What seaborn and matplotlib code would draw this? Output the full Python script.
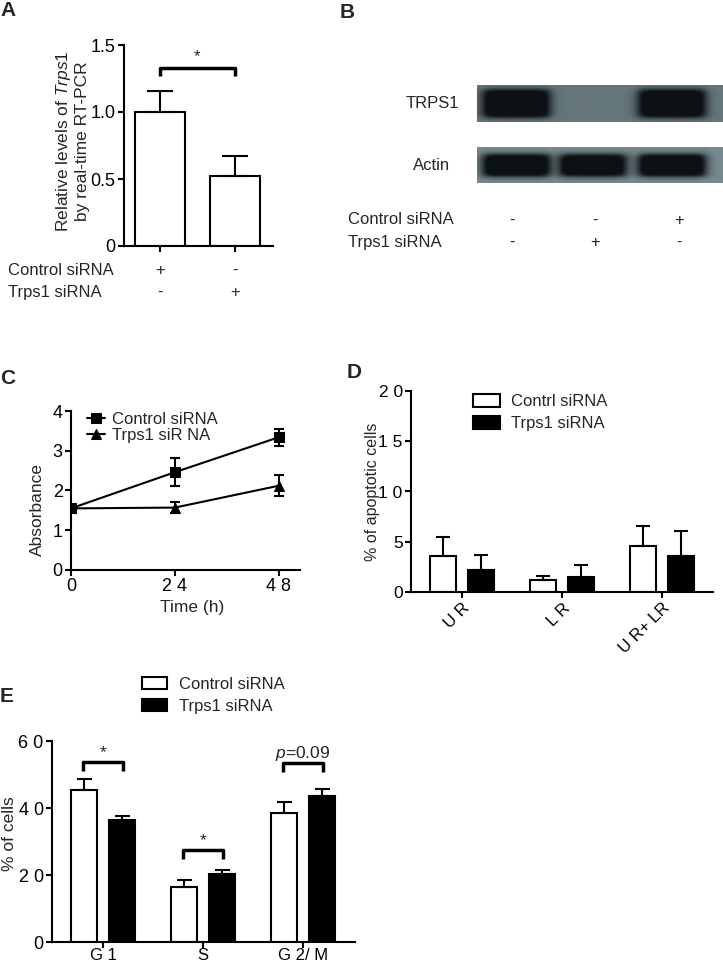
import numpy as np
import pandas as pd
import matplotlib
matplotlib.use('Agg')
import matplotlib.pyplot as plt
import seaborn as sns
from matplotlib import transforms
from matplotlib.colors import LinearSegmentedColormap

# === Data ===
# A: relative Trps1 mRNA levels
a_groups = ['Control', 'Trps1']
a_mean = [1.00, 0.52]
a_err = [0.16, 0.15]
a_control_row = ['+', '-']
a_trps1_row = ['-', '+']
a_bracket = 1.33

# B: western blot (band strength per lane)
b_control_row = ['-', '-', '+']
b_trps1_row = ['-', '+', '-']
b_trps1_band = [1.0, 0.0, 1.0]
b_actin_band = [1.0, 0.95, 1.0]

# C: growth curve
c_time = [0, 24, 48]
c_control = [1.55, 2.46, 3.34]
c_control_err = [0.0, 0.35, 0.21]
c_trps1 = [1.55, 1.57, 2.12]
c_trps1_err = [0.0, 0.13, 0.26]

# D: apoptosis
d_cats = ['U R', 'L R', 'U R+ LR']
d_control = [3.6, 1.2, 4.6]
d_control_err = [1.9, 0.35, 2.0]
d_trps1 = [2.2, 1.5, 3.6]
d_trps1_err = [1.5, 1.2, 2.5]

# E: cell cycle
e_cats = ['G 1', 'S', 'G 2/ M']
e_control = [45.3, 16.4, 38.5]
e_control_err = [3.5, 2.0, 3.4]
e_trps1 = [36.4, 20.2, 43.6]
e_trps1_err = [1.1, 1.2, 2.0]
e_sig = ['*', '*', '$p$=0.09']
e_bracket = [53.7, 27.5, 53.4]

# === Style ===
sns.set_theme(style='ticks')
plt.rcParams['font.family'] = ['Liberation Sans', 'DejaVu Sans']
plt.rcParams.update({
    'mathtext.fontset': 'custom',
    'mathtext.rm': 'Liberation Sans',
    'mathtext.it': 'Liberation Sans:italic',
    'axes.linewidth': 1.5,
    'xtick.major.width': 1.5,
    'ytick.major.width': 1.5,
    'xtick.major.size': 4,
    'ytick.major.size': 4,
    'xtick.major.pad': 2,
    'ytick.major.pad': 2,
    'xtick.labelsize': 13,
    'ytick.labelsize': 13,
    'axes.labelsize': 12,
    'axes.edgecolor': 'black',
    'xtick.color': 'black',
    'ytick.color': 'black',
})

W, H = 723, 963
fig = plt.figure(figsize=(W / 100, H / 100), dpi=100)


def box(x0, y0, x1, y1):
    return [x0 / W, 1 - y1 / H, (x1 - x0) / W, (y1 - y0) / H]


def ftext(x, y, s, **kw):
    fig.text(x / W, 1 - y / H, s, **kw)


def add_errors(ax, errs_list, capsize):
    for cont, errs in zip(ax.containers, errs_list):
        for bar, e in zip(cont, errs):
            x = bar.get_x() + bar.get_width() / 2
            ax.errorbar(x, bar.get_height(), yerr=[[0], [e]], fmt='none',
                        ecolor='black', elinewidth=1.5, capsize=capsize,
                        capthick=1.5, zorder=1)


def bracket(ax, x0, x1, y, drop, lw=2):
    ax.plot([x0, x0, x1, x1], [y - drop, y, y, y - drop], color='black',
            lw=lw, solid_capstyle='butt', clip_on=False)


# === Panel labels ===
for lab, (x, y) in zip('ABCDE', [(8, 11), (347, 12), (8, 378), (354, 373), (7, 696)]):
    ftext(x, y, lab, fontsize=15, fontweight='bold', ha='center', va='center')

# === Panel A ===
ax_a = fig.add_axes(box(124, 45, 273, 246))
sns.barplot(x=a_groups, y=a_mean, color='white', edgecolor='black',
            linewidth=1.5, width=0.667, errorbar=None, ax=ax_a)
add_errors(ax_a, [a_err], capsize=9.5)
ax_a.set_xlim(-0.48, 1.51)
ax_a.set_ylim(0, 1.5)
ax_a.set_yticks([0, 0.5, 1.0, 1.5])
ax_a.set_yticklabels(['0', '0.5', '1.0', '1.5'])
ax_a.set_xticks([0, 1])
ax_a.set_xticklabels(['', ''])
ax_a.set_ylabel('Relative levels of $\\it{Trps1}$\nby real-time RT-PCR', fontsize=12.5)
ax_a.yaxis.set_label_coords(-0.225, 0.52)
sns.despine(ax=ax_a)
bracket(ax_a, 0, 1, a_bracket, 0.06, lw=2.5)
ax_a.text(0.5, 1.41, '*', ha='center', va='center', fontsize=12)
tr_a = transforms.blended_transform_factory(ax_a.transData, fig.transFigure)
ftext(8, 270, 'Control siRNA', fontsize=12, va='center')
ftext(8, 292, 'Trps1 siRNA', fontsize=12, va='center')
for i, (c, t) in enumerate(zip(a_control_row, a_trps1_row)):
    ax_a.text(i, 1 - 270 / H, c, transform=tr_a, ha='center', va='center', fontsize=12)
    ax_a.text(i, 1 - 292 / H, t, transform=tr_a, ha='center', va='center', fontsize=12)

# === Panel B (blot) ===
lane_centers = [0.05, 0.97, 1.92]


def band_image(levels, y0, y1, hw=0.40):
    xs = np.linspace(-0.42, 2.53, 500)
    ys = np.linspace(1, 0, 80)
    row = np.zeros_like(xs)
    for c, lvl in zip(lane_centers, levels):
        row += lvl * 0.25 * (1 + np.tanh((xs - (c - hw)) / 0.08)) * (1 - np.tanh((xs - (c + hw)) / 0.08))
    col = 0.25 * (1 + np.tanh((ys - y0) / 0.09)) * (1 - np.tanh((ys - y1) / 0.09))
    return np.clip(np.outer(col, row) * 1.35, 0, 1)


for (y0px, y1px), levels, (by0, by1), bg, name in [
        ((85, 122), b_trps1_band, (0.12, 0.88), '#66777c', 'TRPS1'),
        ((147, 183), b_actin_band, (0.18, 0.80), '#778a8f', 'Actin')]:
    ax_b = fig.add_axes(box(477, y0px, 723, y1px))
    cmap = LinearSegmentedColormap.from_list('blot', [bg, '#0c1114'])
    ax_b.imshow(band_image(levels, by0, by1), cmap=cmap, vmin=0, vmax=1,
                extent=(-0.42, 2.53, 0, 1), aspect='auto', interpolation='bilinear')
    ax_b.set_axis_off()
    ftext(432, (y0px + y1px) / 2, name, fontsize=12, ha='center', va='center')

tr_b = transforms.blended_transform_factory(ax_b.transData, fig.transFigure)
ftext(348, 220, 'Control siRNA', fontsize=12, va='center')
ftext(348, 242, 'Trps1 siRNA', fontsize=12, va='center')
for i, (c, t) in enumerate(zip(b_control_row, b_trps1_row)):
    ax_b.text(i, 1 - 220 / H, c, transform=tr_b, ha='center', va='center', fontsize=12)
    ax_b.text(i, 1 - 242 / H, t, transform=tr_b, ha='center', va='center', fontsize=12)

# === Panel C ===
ax_c = fig.add_axes(box(71, 411, 300, 570))
df_c = pd.DataFrame({
    'time': c_time * 2,
    'value': c_control + c_trps1,
    'group': ['Control siRNA'] * 3 + ['Trps1 siR NA'] * 3,
})
sns.lineplot(data=df_c, x='time', y='value', style='group', markers=['s', '^'],
             dashes=False, color='black', linewidth=1.5, markersize=7,
             markeredgecolor='black', errorbar=None, ax=ax_c)
for vals, errs in [(c_control, c_control_err), (c_trps1, c_trps1_err)]:
    ax_c.errorbar(c_time, vals, yerr=errs, fmt='none', ecolor='black',
                  elinewidth=1.5, capsize=3.6, capthick=1.5)
ax_c.set_xlim(0, 52.9)
ax_c.set_ylim(0, 4)
ax_c.set_xticks(c_time)
ax_c.set_xticklabels(['0', '2 4', '4 8'])
ax_c.set_yticks([0, 1, 2, 3, 4])
ax_c.set_xlabel('Time (h)', fontsize=12.5)
ax_c.set_ylabel('Absorbance', fontsize=12.5)
ax_c.xaxis.set_label_coords(0.53, -0.19)
ax_c.yaxis.set_label_coords(-0.115, 0.38)
handles, labels = ax_c.get_legend_handles_labels()
ax_c.legend(handles, labels, frameon=False, fontsize=12, loc='upper left',
            bbox_to_anchor=(0.07, 0.995), handlelength=1.1, handletextpad=0.4,
            labelspacing=0.05, borderpad=0, borderaxespad=0)
sns.despine(ax=ax_c)

# === Panel D ===
ax_d = fig.add_axes(box(411, 391, 713, 592))
df_d = pd.DataFrame({
    'cat': d_cats * 2,
    'value': d_control + d_trps1,
    'group': ['Contrl siRNA'] * 3 + ['Trps1 siRNA'] * 3,
})
sns.barplot(data=df_d, x='cat', y='value', hue='group', palette=['white', 'black'],
            saturation=1, edgecolor='black', linewidth=1.5, width=0.76, gap=0.29,
            errorbar=None, ax=ax_d)
add_errors(ax_d, [d_control_err, d_trps1_err], capsize=4.7)
ax_d.set_xlim(-0.51, 2.51)
ax_d.set_ylim(0, 20)
ax_d.set_yticks([0, 5, 10, 15, 20])
ax_d.set_yticklabels(['0', '5', '1 0', '1 5', '2 0'])
ax_d.tick_params(axis='y', labelsize=12.5)
ax_d.set_xticks(range(len(d_cats)))
ax_d.set_xticklabels(d_cats, rotation=45, ha='right', rotation_mode='anchor', fontsize=12)
ax_d.set_xlabel('')
ax_d.set_ylabel('% of apoptotic cells', fontsize=11.5)
ax_d.yaxis.set_label_coords(-0.103, 0.5)
handles, labels = ax_d.get_legend_handles_labels()
ax_d.legend(handles, labels, frameon=False, fontsize=12, loc='upper left',
            bbox_to_anchor=(0.205, 0.985), handlelength=1.6, handleheight=0.8,
            handletextpad=0.7, labelspacing=0.4, borderpad=0, borderaxespad=0)
sns.despine(ax=ax_d)

# === Panel E ===
ax_e = fig.add_axes(box(52, 741, 355, 942))
df_e = pd.DataFrame({
    'cat': e_cats * 2,
    'value': e_control + e_trps1,
    'group': ['Control siRNA'] * 3 + ['Trps1 siRNA'] * 3,
})
sns.barplot(data=df_e, x='cat', y='value', hue='group', palette=['white', 'black'],
            saturation=1, edgecolor='black', linewidth=1.5, width=0.76, gap=0.32,
            errorbar=None, ax=ax_e)
add_errors(ax_e, [e_control_err, e_trps1_err], capsize=5.4)
ax_e.set_xlim(-0.51, 2.52)
ax_e.set_ylim(0, 60)
ax_e.set_yticks([0, 20, 40, 60])
ax_e.set_yticklabels(['0', '2 0', '4 0', '6 0'])
ax_e.set_xticks(range(len(e_cats)))
ax_e.set_xticklabels(e_cats)
ax_e.tick_params(axis='x', labelsize=12, pad=0.5)
ax_e.set_xlabel('')
ax_e.set_ylabel('% of cells', fontsize=12.5)
ax_e.yaxis.set_label_coords(-0.116, 0.54)
for i, (s, yb) in enumerate(zip(e_sig, e_bracket)):
    bracket(ax_e, i - 0.2, i + 0.2, yb, 2.6, lw=2.5)
    ax_e.text(i, yb + 2.9, s, ha='center', va='center', fontsize=12.5)
handles, labels = ax_e.get_legend_handles_labels()
ax_e.legend(handles, labels, frameon=False, fontsize=12, loc='upper left',
            bbox_to_anchor=(0.297, 1.32), handlelength=1.5, handleheight=0.8,
            handletextpad=0.7, labelspacing=0.4, borderpad=0, borderaxespad=0)
sns.despine(ax=ax_e)

fig.savefig('out.png', dpi=100)
